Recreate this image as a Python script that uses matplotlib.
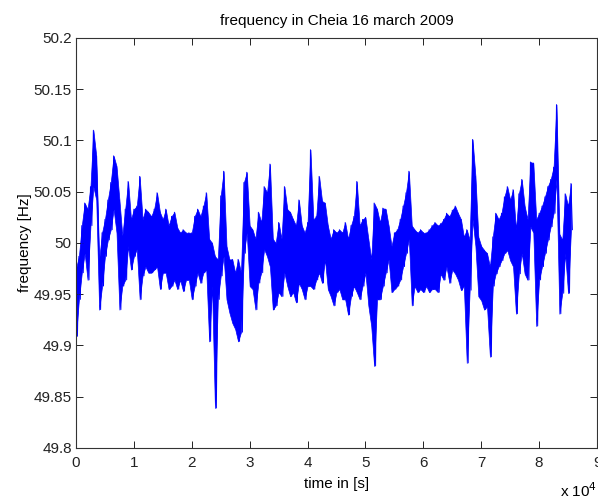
import numpy as np
import matplotlib
matplotlib.use("Agg")
import matplotlib.pyplot as plt

plt.rcParams['font.family'] = ['Liberation Sans', 'DejaVu Sans']

# time grid (s), one envelope sample every 500 s
time_s = np.arange(0, 86000, 500)

freq_high = [
    49.975, 49.987, 50.017, 50.039, 50.033, 50.055, 50.110, 50.085, 49.984, 50.010,
    50.023, 50.042, 50.059, 50.085, 50.075, 50.042, 50.007, 50.033, 50.060, 50.023,
    50.033, 50.036, 50.065, 50.023, 50.033, 50.030, 50.026, 50.033, 50.049, 50.030,
    50.023, 50.033, 50.017, 50.026, 50.030,
    50.015, 50.010, 50.013, 50.010, 50.010, 50.010, 50.026, 50.033, 50.026, 50.036,
    50.049, 50.004, 50.000, 49.987, 49.984, 50.046, 50.070, 49.997, 49.984, 49.984,
    49.971, 49.984, 49.971, 50.059, 50.069, 50.017, 50.013, 50.004, 50.030, 50.020,
    50.055, 50.049, 50.077, 50.004, 50.000, 50.020, 50.004, 50.055, 50.033, 50.030,
    50.023, 50.017, 50.042, 50.017, 50.010, 50.020,
    50.091, 50.023, 50.026, 50.065, 50.041, 50.039, 50.017, 50.004, 50.013, 50.010,
    50.013, 50.010, 50.020, 50.004, 50.017, 50.026, 50.060, 50.017, 50.023, 50.025,
    50.004, 49.984, 50.039, 50.033, 50.020, 50.034, 50.033, 50.017, 49.997, 50.010,
    50.013, 50.023, 50.036, 50.049, 50.070, 50.017, 50.013, 50.010, 50.013, 50.010,
    50.010, 50.013, 50.017, 50.020, 50.017,
    50.019, 50.023, 50.029, 50.026, 50.032, 50.036, 50.029, 50.023, 50.006, 50.013,
    50.003, 50.101, 50.065, 50.006, 49.997, 49.993, 49.990, 49.977, 50.006, 50.029,
    50.023, 50.029, 50.045, 50.055, 50.042, 50.052, 50.013, 50.048, 50.062, 50.036,
    50.023, 50.079, 50.078, 50.023, 50.029, 50.036, 50.045, 50.055, 50.062, 50.074,
    50.135, 50.009, 50.003, 50.048, 50.036, 50.058,
]

freq_low = [
    49.909, 49.945, 49.971, 49.990, 49.964, 50.017, 50.055, 50.042, 49.935, 49.958,
    49.987, 50.003, 50.013, 50.033, 50.010, 49.935, 49.958, 49.964, 49.997, 49.974,
    49.987, 49.994, 49.945, 49.968, 49.977, 49.971, 49.971, 49.974, 49.977, 49.955,
    49.971, 49.971, 49.955, 49.958, 49.964,
    49.955, 49.964, 49.953, 49.964, 49.964, 49.945, 49.958, 49.971, 49.961, 49.971,
    49.974, 49.904, 49.958, 49.839, 49.945, 49.968, 49.987, 49.945, 49.932, 49.922,
    49.916, 49.904, 49.913, 49.990, 50.010, 49.958, 49.955, 49.935, 49.961, 49.971,
    49.994, 49.987, 49.977, 49.935, 49.939, 49.952, 49.948, 49.971, 49.958, 49.948,
    49.952, 49.942, 49.961, 49.955, 49.945, 49.958,
    49.958, 49.955, 49.964, 49.971, 49.961, 49.984, 49.955, 49.948, 49.939, 49.952,
    49.955, 49.945, 49.945, 49.930, 49.948, 49.958, 49.952, 49.945, 49.958, 49.971,
    49.939, 49.919, 49.880, 49.945, 49.945, 49.958, 49.971, 49.984, 49.952, 49.955,
    49.958, 49.964, 49.977, 49.990, 50.004, 49.939, 49.958, 49.952, 49.955, 49.952,
    49.958, 49.952, 49.955, 49.955, 49.952,
    49.970, 49.964, 49.977, 49.961, 49.974, 49.970, 49.964, 49.954, 49.958, 49.883,
    49.954, 50.023, 49.997, 49.948, 49.944, 49.935, 49.938, 49.889, 49.958, 49.970,
    49.977, 49.983, 49.990, 49.993, 49.983, 49.977, 49.931, 49.970, 49.990, 49.970,
    49.964, 50.016, 50.010, 49.919, 49.964, 49.977, 49.990, 50.003, 50.016, 50.029,
    50.062, 49.931, 49.951, 49.990, 49.951, 50.013,
]

xtick_labels = ['0', '1', '2', '3', '4', '5', '6', '7', '8', '9']
ytick_values = [49.8, 49.85, 49.9, 49.95, 50.0, 50.05, 50.1, 50.15, 50.2]
ytick_labels = ['49.8', '49.85', '49.9', '49.95', '50', '50.05', '50.1', '50.15', '50.2']

t_arr = np.asarray(time_s, dtype=float)
hi = np.asarray(freq_high)
lo = np.asarray(freq_low)

# interleave high/low samples into one trace
t_trace = np.empty(2 * len(t_arr))
f_trace = np.empty(2 * len(t_arr))
t_trace[0::2] = t_arr
t_trace[1::2] = t_arr + 250
f_trace[0::2] = hi
f_trace[1::2] = lo

blue = '#0000ff'
fig = plt.figure(figsize=(5.98, 4.96), dpi=100)
ax = fig.add_axes([76/598, 48/496, 521/598, 410/496])
# band of the signal between its local minima and maxima
ax.fill_between(t_arr, lo, hi, color=blue, linewidth=0.5, edgecolor=blue)
ax.plot(t_trace, f_trace, color=blue, lw=0.7)

ax.set_xlim(0, 90000)
ax.set_ylim(49.8, 50.2)
ax.set_xticks(np.arange(len(xtick_labels)) * 10000)
ax.set_xticklabels(xtick_labels)
ax.set_yticks(ytick_values)
ax.set_yticklabels(ytick_labels)
ax.tick_params(direction='in', length=5, width=0.7, top=True, right=True,
               labelsize=11, colors='#222222')
ax.tick_params(axis='x', pad=6)
ax.tick_params(axis='y', pad=3)
for s in ax.spines.values():
    s.set_linewidth(0.8)
    s.set_color('#333333')

ax.set_title('frequency in Cheia 16 march 2009', fontsize=11, pad=9)
ax.set_xlabel('time in [s]', fontsize=11, labelpad=5)
ax.set_ylabel('frequency [Hz]', fontsize=11, labelpad=1)
fig.text(560/598, 1 - 491/496, r'x 10$^{4}$', fontsize=11, ha='left', va='center')

fig.savefig('out.png', dpi=100)
